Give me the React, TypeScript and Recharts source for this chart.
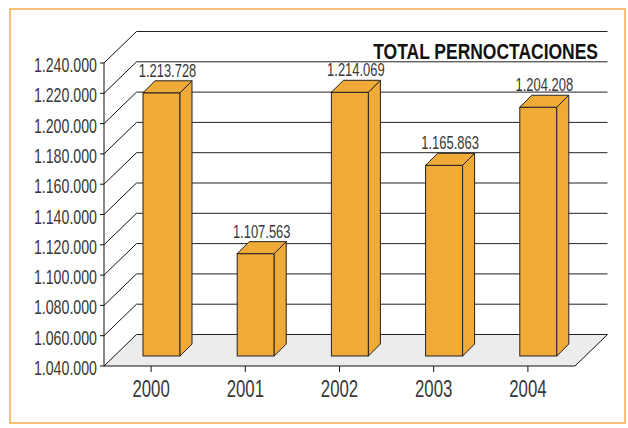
import React from 'react'
import { BarChart, Bar, XAxis, YAxis, CartesianGrid } from 'recharts'

const years = ['2000', '2001', '2002', '2003', '2004']
const overnightStays = [1213728, 1107563, 1214069, 1165863, 1204208]
const yTicks = [1040000, 1060000, 1080000, 1100000, 1120000, 1140000, 1160000, 1180000, 1200000, 1220000, 1240000]

const data = years.map((year, i) => ({ year, stays: overnightStays[i] }))

const FONT = "'Liberation Sans', Arial, sans-serif"
const DX = 32.5 // depth of the back wall
const DY = 31.5
const FRONT = 10 // bar front face pushed back into the box
const DEPTH = 12 // bar depth
const ORANGE = '#f0aa38'

const fmt = (v: number) => String(Math.round(v)).replace(/\B(?=(\d{3})+(?!\d))/g, '.')

// condensed text: the reference uses a narrow face, so squeeze Liberation Sans horizontally
const Narrow = ({ x, y, size, sx, anchor = 'middle', weight = 'normal', fill = '#383838', children }: any) => (
  <text
    transform={`translate(${x},${y}) scale(${sx},1)`}
    textAnchor={anchor}
    fontFamily={FONT}
    fontSize={size}
    fontWeight={weight}
    fill={fill}
  >
    {children}
  </text>
)

const gridLine = (props: any) => {
  const { x1, x2, y1, index } = props
  const bottom = props.y != null && props.height != null ? props.y + props.height : null
  const floor = bottom != null ? Math.abs(y1 - bottom) < 1 : index === 0
  return (
    <g key={`g-${index}`}>
      {floor && (
        <>
          <polygon
            points={`${x1},${y1} ${x2},${y1} ${x2 + DX},${y1 - DY} ${x1 + DX},${y1 - DY}`}
            fill='#ececec'
          />
          <line x1={x2} y1={y1} x2={x2 + DX} y2={y1 - DY} stroke='#111' />
        </>
      )}
      <line x1={x1} y1={y1} x2={x1 + DX} y2={y1 - DY} stroke='#111' />
      <line x1={x1 + DX} y1={y1 - DY} x2={x2 + DX} y2={y1 - DY} stroke='#222' />
    </g>
  )
}

const Bar3D = (props: any) => {
  const { x, y, width, height, payload } = props
  const fx = x + FRONT
  const fy = y - FRONT
  const bottom = y + height - FRONT
  const w = width
  return (
    <g>
      <rect x={fx} y={fy} width={w} height={bottom - fy} fill={ORANGE} stroke='#222' />
      <polygon
        points={`${fx + w},${fy} ${fx + w + DEPTH},${fy - DEPTH} ${fx + w + DEPTH},${bottom - DEPTH} ${fx + w},${bottom}`}
        fill={ORANGE}
        stroke='#222'
      />
      <polygon
        points={`${fx},${fy} ${fx + DEPTH},${fy - DEPTH} ${fx + w + DEPTH},${fy - DEPTH} ${fx + w},${fy}`}
        fill={ORANGE}
        stroke='#222'
      />
      <Narrow x={fx + w / 2 + DEPTH / 2} y={fy - DEPTH - 4} size={18.5} sx={0.7}>
        {fmt(payload.stays)}
      </Narrow>
    </g>
  )
}

const YTick = (props: any) => (
  <Narrow x={props.x} y={props.y + 9} size={20} sx={0.71} anchor='end'>
    {fmt(props.payload.value)}
  </Narrow>
)

const XTick = (props: any) => (
  <Narrow x={props.x} y={props.y + 23} size={23} sx={0.73}>
    {props.payload.value}
  </Narrow>
)

export default function App() {
  return (
    <div style={{ position: 'absolute', left: 0, top: 0, width: 628, height: 428, background: '#fff' }}>
      <BarChart width={628} height={428} data={data} margin={{ top: 63, right: 53, left: 0, bottom: 0 }}>
        <CartesianGrid vertical={false} horizontal={gridLine} />
        <XAxis
          dataKey='year'
          height={62}
          tickSize={6}
          tickMargin={2}
          axisLine={{ stroke: '#111' }}
          tickLine={{ stroke: '#111' }}
          tick={<XTick />}
        />
        <YAxis
          width={104}
          domain={[1040000, 1240000]}
          ticks={yTicks}
          interval={0}
          tickSize={4}
          tickMargin={3}
          axisLine={{ stroke: '#111' }}
          tickLine={{ stroke: '#111' }}
          tick={<YTick />}
        />
        <Bar dataKey='stays' barSize={37} isAnimationActive={false} shape={Bar3D} />
      </BarChart>
      <svg width={628} height={428} style={{ position: 'absolute', left: 0, top: 0, pointerEvents: 'none' }}>
        <rect x={10} y={9} width={615} height={414} fill='none' stroke='#f6c074' strokeWidth={2} />
        <Narrow x={598} y={58.5} size={22.4} sx={0.78} anchor='end' weight='bold' fill='#111'>
          TOTAL PERNOCTACIONES
        </Narrow>
      </svg>
    </div>
  )
}
